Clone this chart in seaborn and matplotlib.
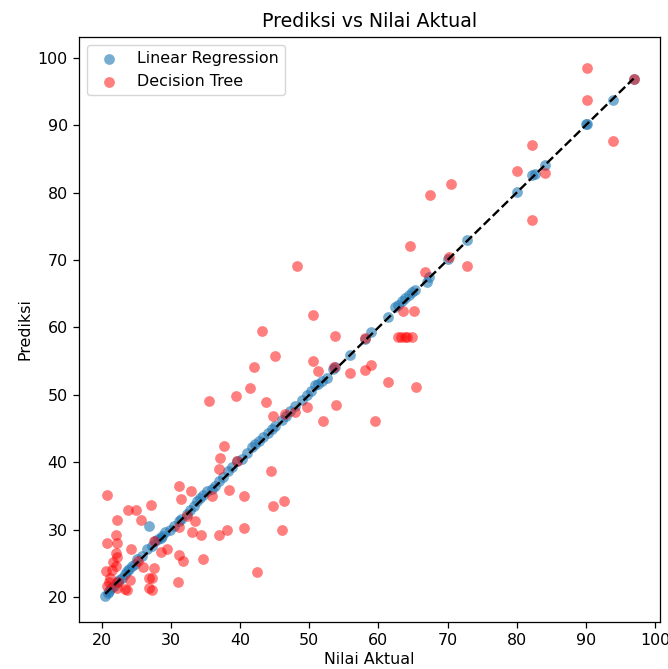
import matplotlib
matplotlib.use("Agg")
import matplotlib.pyplot as plt
import seaborn as sns
import pandas as pd

# Linear Regression: actual vs predicted
lr_actual = [20.5, 20.9, 21.0, 21.4, 21.7, 22.2, 22.5, 22.9, 23.3, 23.6, 24.0, 24.4, 24.8, 25.1,
             25.8, 26.5, 26.9, 27.2, 27.7, 28.1, 28.5, 28.7, 29.2, 29.8, 30.4, 31.1, 31.5, 32.3,
             32.8, 33.3, 33.8, 34.2, 34.7, 35.2, 35.9, 36.4, 36.9, 37.6, 38.3, 38.9, 39.5, 40.3,
             41.0, 41.7, 42.2, 42.8, 43.3, 44.1, 44.6, 45.1, 46.0, 46.6, 47.2, 48.0, 48.9, 49.7,
             50.3, 50.9, 51.3, 51.8, 52.5, 53.5, 53.7, 55.9, 58.1, 59.0, 61.4, 62.4, 62.9, 63.4,
             63.9, 64.4, 64.8, 65.3, 67.0, 67.3, 70.1, 72.8, 80.0, 82.2, 82.6, 84.1, 90.0, 90.2,
             93.9, 96.9]
lr_pred = [20.2, 20.6, 20.9, 21.3, 21.7, 22.2, 22.5, 22.9, 23.4, 23.9, 24.2, 24.6, 25.0, 25.6,
           26.1, 27.1, 30.5, 27.6, 28.3, 28.6, 28.8, 29.1, 29.6, 30.0, 30.6, 31.3, 31.6, 32.3,
           32.9, 33.6, 34.2, 34.7, 35.2, 35.7, 36.0, 36.5, 37.2, 37.9, 38.7, 39.3, 40.2, 40.5,
           41.4, 42.3, 42.7, 43.2, 43.7, 44.4, 44.9, 45.4, 46.3, 46.9, 47.6, 48.4, 49.3, 50.0,
           50.6, 51.5, 51.6, 52.0, 52.5, 53.8, 54.2, 55.9, 58.3, 59.4, 61.5, 63.0, 63.4, 63.9,
           64.4, 64.8, 65.2, 65.5, 66.8, 67.5, 70.2, 73.0, 80.1, 82.6, 82.7, 84.1, 90.1, 90.2,
           93.8, 96.8]

# Decision Tree: actual vs predicted
dt_actual = [90.1, 90.1, 93.9, 96.9, 82.2, 80.0, 84.1, 82.2, 70.5, 67.4, 64.5, 72.8, 70.2, 66.8,
             63.5, 65.2, 62.8, 63.3, 63.8, 64.2, 64.8, 53.7, 58.1, 53.6, 55.9, 58.0, 58.9, 61.4,
             65.5, 53.9, 59.5, 48.3, 50.6, 43.2, 45.0, 42.0, 50.5, 51.3, 41.5, 39.4, 35.5, 43.7,
             49.7, 44.8, 46.5, 48.0, 52.0, 44.5, 40.6, 44.8, 46.3, 46.1, 42.4, 40.6, 37.7, 37.1,
             37.0, 39.5, 38.4, 31.2, 32.9, 31.4, 35.9, 32.3, 31.1, 33.5, 33.0, 34.4, 37.0, 38.1,
             34.7, 27.1, 20.75, 23.8, 25.0, 22.2, 25.6, 22.1, 20.75, 22.2, 24.2, 27.5, 29.4, 28.5,
             31.1, 31.8, 26.0, 27.5, 22.2, 21.6, 22.0, 20.6, 21.2, 20.75, 22.4, 24.1, 23.3, 22.2,
             26.8, 27.3, 26.8, 27.2, 31.0, 25.3, 21.0, 21.5, 23.6, 22.0]
dt_pred = [98.5, 93.8, 87.6, 96.8, 87.0, 83.2, 82.9, 76.0, 81.3, 79.6, 72.1, 69.1, 70.4, 68.2,
           62.5, 62.5, 58.6, 58.6, 58.6, 58.6, 58.6, 58.8, 58.4, 54.1, 53.2, 53.7, 54.4, 51.9,
           51.2, 48.5, 46.2, 69.1, 61.8, 59.5, 55.8, 54.2, 55.0, 53.6, 51.0, 49.9, 49.1, 49.0,
           48.2, 46.8, 47.2, 47.4, 46.2, 38.7, 35.0, 33.5, 34.2, 29.9, 23.7, 30.3, 42.4, 40.7,
           39.0, 40.2, 35.9, 36.5, 35.7, 34.6, 35.0, 32.0, 30.4, 31.3, 29.7, 29.3, 29.2, 30.0,
           25.6, 33.7, 35.1, 33.0, 33.0, 31.4, 31.4, 29.2, 28.1, 28.0, 27.2, 28.3, 27.2, 26.7,
           26.2, 25.4, 24.5, 24.4, 25.9, 25.2, 24.6, 23.9, 22.9, 21.7, 22.2, 22.6, 21.2, 21.3,
           22.9, 22.9, 21.3, 21.1, 22.2, 25.4, 22.3, 24.0, 21.0, 26.5]

lr_df = pd.DataFrame({"actual": lr_actual, "pred": lr_pred})
dt_df = pd.DataFrame({"actual": dt_actual, "pred": dt_pred})

k = 1.14
plt.rcParams.update({
    "font.size": 10 * k,
    "axes.linewidth": 0.8 * k,
    "xtick.major.size": 3.5 * k,
    "ytick.major.size": 3.5 * k,
    "xtick.major.width": 0.8 * k,
    "ytick.major.width": 0.8 * k,
    "xtick.major.pad": 3.5 * k,
    "ytick.major.pad": 3.5 * k,
    "axes.titlepad": 6 * k,
    "axes.labelpad": 3 * k,
})

fig = plt.figure(figsize=(6.68, 6.69), dpi=100)
ax = fig.add_axes([0.118, 0.071, 0.870, 0.874])

sns.scatterplot(data=lr_df, x="actual", y="pred", ax=ax, color="#1f77b4", alpha=0.6,
                s=60, linewidth=0, label="Linear Regression")
sns.scatterplot(data=dt_df, x="actual", y="pred", ax=ax, color="red", alpha=0.5,
                s=60, linewidth=0, label="Decision Tree")

lo, hi = min(lr_actual), max(lr_actual)
ax.plot([lo, hi], [lo, hi], "k--", lw=1.5 * k)

ax.set_ylim(16.4, 103.1)
ax.set_title("Prediksi vs Nilai Aktual", fontsize=12 * k)
ax.set_xlabel("Nilai Aktual", fontsize=10 * k)
ax.set_ylabel("Prediksi", fontsize=10 * k)
ax.set_xticks([20, 30, 40, 50, 60, 70, 80, 90, 100])
ax.set_yticks([20, 30, 40, 50, 60, 70, 80, 90, 100])
ax.legend(loc="upper left", fontsize=10 * k)

fig.savefig("out.png", dpi=100)
